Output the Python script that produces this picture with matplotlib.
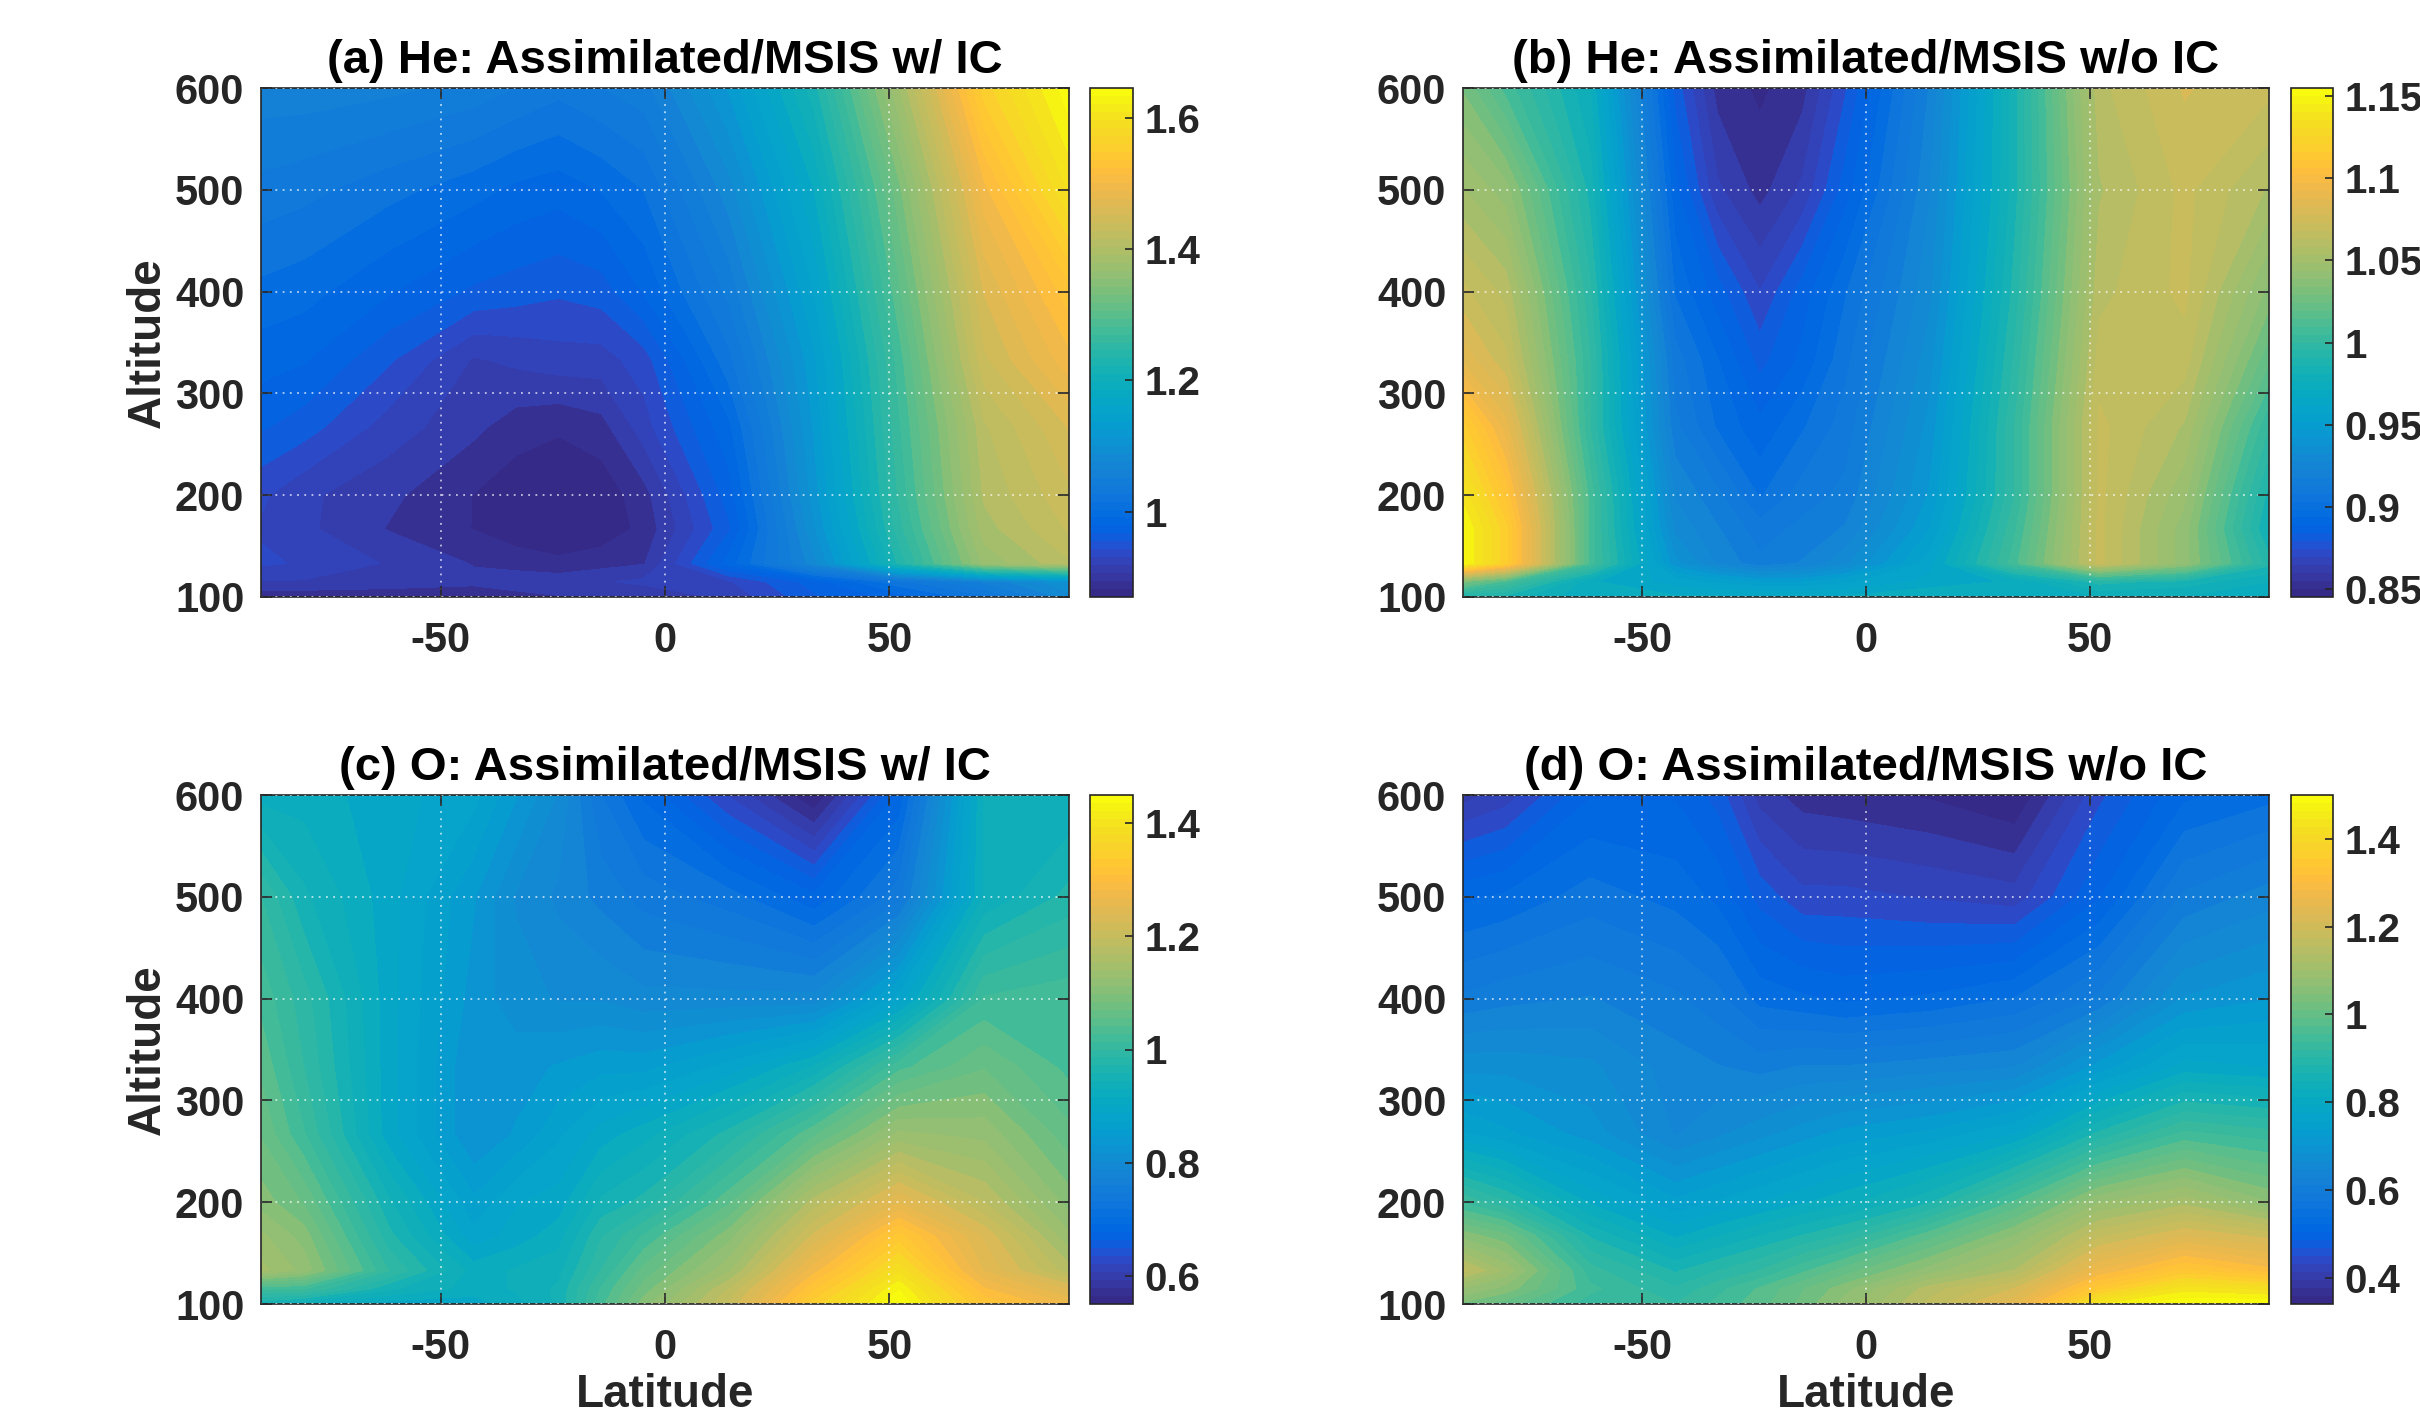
import numpy as np
import matplotlib
matplotlib.use("Agg")
import matplotlib.pyplot as plt
from matplotlib.colors import ListedColormap, Normalize
from matplotlib.cm import ScalarMappable

plt.rcParams['font.family'] = ['Liberation Sans', 'DejaVu Sans']
plt.rcParams['font.weight'] = 'bold'
plt.rcParams['axes.unicode_minus'] = False

parula = ListedColormap([
    [0.2081,0.1663,0.5292],[0.2116,0.1898,0.5777],[0.2123,0.2138,0.6270],[0.2081,0.2386,0.6771],
    [0.1959,0.2645,0.7279],[0.1707,0.2919,0.7792],[0.1253,0.3242,0.8303],[0.0591,0.3598,0.8683],
    [0.0117,0.3875,0.8820],[0.0060,0.4086,0.8828],[0.0165,0.4266,0.8786],[0.0329,0.4430,0.8720],
    [0.0498,0.4586,0.8641],[0.0629,0.4737,0.8554],[0.0723,0.4887,0.8467],[0.0779,0.5040,0.8384],
    [0.0793,0.5200,0.8312],[0.0749,0.5375,0.8263],[0.0641,0.5570,0.8240],[0.0488,0.5772,0.8228],
    [0.0343,0.5966,0.8199],[0.0265,0.6137,0.8135],[0.0239,0.6287,0.8038],[0.0231,0.6418,0.7913],
    [0.0228,0.6535,0.7768],[0.0267,0.6642,0.7607],[0.0384,0.6743,0.7436],[0.0590,0.6838,0.7254],
    [0.0843,0.6928,0.7062],[0.1133,0.7015,0.6859],[0.1453,0.7098,0.6646],[0.1801,0.7177,0.6424],
    [0.2178,0.7250,0.6193],[0.2586,0.7317,0.5954],[0.3022,0.7376,0.5712],[0.3482,0.7424,0.5473],
    [0.3953,0.7459,0.5244],[0.4420,0.7481,0.5033],[0.4871,0.7491,0.4840],[0.5300,0.7491,0.4661],
    [0.5709,0.7485,0.4494],[0.6099,0.7473,0.4337],[0.6473,0.7456,0.4188],[0.6834,0.7435,0.4044],
    [0.7184,0.7411,0.3905],[0.7525,0.7384,0.3768],[0.7858,0.7356,0.3633],[0.8185,0.7327,0.3498],
    [0.8507,0.7299,0.3360],[0.8824,0.7274,0.3217],[0.9139,0.7258,0.3063],[0.9450,0.7261,0.2886],
    [0.9739,0.7314,0.2666],[0.9938,0.7455,0.2403],[0.9990,0.7653,0.2164],[0.9955,0.7861,0.1967],
    [0.9880,0.8066,0.1794],[0.9789,0.8271,0.1633],[0.9697,0.8481,0.1475],[0.9626,0.8705,0.1309],
    [0.9589,0.8949,0.1132],[0.9598,0.9218,0.0948],[0.9661,0.9514,0.0755],[0.9763,0.9831,0.0538]])

lat = [-90, -80.5, -61.6, -42.6, -33.2, -23.7, -14.2, -4.7, 14.2, 33.2, 52.1, 71.1, 90]
alt = [100, 115, 133, 167, 200, 267, 333, 400, 500, 600]

he_ic = [
    [.89,.89,.89,.89,.895,.90,.905,.905,.92,.96,.985,1.02,1.08],
    [.915,.915,.91,.905,.91,.91,.915,.92,.93,.97,1.02,1.06,1.10],
    [.935,.93,.915,.90,.895,.89,.895,.90,.985,1.08,1.23,1.37,1.41],
    [.93,.92,.90,.885,.875,.87,.875,.89,.96,1.10,1.25,1.39,1.43],
    [.935,.92,.905,.885,.875,.87,.875,.895,.97,1.11,1.26,1.40,1.44],
    [.965,.955,.925,.905,.893,.888,.895,.925,.99,1.12,1.27,1.41,1.46],
    [.985,.98,.95,.915,.92,.925,.925,.94,1.02,1.13,1.28,1.44,1.50],
    [1.005,1.00,.98,.96,.955,.95,.955,.98,1.045,1.15,1.30,1.46,1.53],
    [1.035,1.03,1.015,1.00,.99,.985,.995,1.01,1.08,1.18,1.33,1.50,1.60],
    [1.065,1.065,1.06,1.05,1.04,1.03,1.04,1.05,1.12,1.22,1.38,1.56,1.64]]

he_noic = [
    [.985,.985,.97,.97,.97,.97,.97,.97,.975,.975,.975,.975,.97],
    [1.03,1.01,.97,.96,.955,.95,.95,.955,.965,.97,.99,.985,.975],
    [1.15,1.12,1.01,.94,.925,.915,.92,.93,.96,1.01,1.07,1.04,.99],
    [1.15,1.12,1.01,.93,.92,.91,.915,.92,.95,1.005,1.07,1.04,.98],
    [1.14,1.11,1.01,.925,.915,.90,.91,.915,.945,1.00,1.07,1.045,.985],
    [1.12,1.09,1.00,.915,.90,.89,.90,.91,.94,1.00,1.07,1.055,1.00],
    [1.085,1.07,1.00,.91,.895,.88,.89,.905,.935,.995,1.065,1.065,1.02],
    [1.07,1.06,.995,.90,.885,.87,.885,.90,.93,.99,1.06,1.07,1.035],
    [1.05,1.04,.985,.89,.865,.855,.865,.885,.925,.985,1.055,1.07,1.055],
    [1.03,1.01,.975,.88,.855,.85,.855,.875,.92,.985,1.06,1.075,1.07]]

o_ic = [
    [.95,.93,.90,.90,.92,.95,1.03,1.10,1.20,1.35,1.45,1.32,1.27],
    [1.02,1.02,.95,.92,.93,.95,1.02,1.08,1.18,1.32,1.43,1.29,1.23],
    [1.15,1.12,1.00,.92,.93,.94,1.00,1.06,1.14,1.28,1.39,1.25,1.17],
    [1.13,1.10,.97,.88,.90,.92,.98,1.02,1.10,1.22,1.33,1.23,1.13],
    [1.10,1.07,.95,.86,.89,.90,.95,.97,1.05,1.17,1.25,1.18,1.10],
    [1.07,1.02,.90,.82,.84,.87,.90,.92,.97,1.05,1.13,1.12,1.06],
    [1.05,1.00,.90,.82,.83,.84,.85,.85,.88,.93,1.03,1.07,1.03],
    [1.03,.99,.90,.83,.81,.80,.80,.79,.79,.79,.88,1.02,1.03],
    [1.00,.95,.90,.84,.80,.78,.76,.74,.72,.68,.74,.93,.97],
    [.92,.92,.90,.88,.84,.80,.73,.69,.62,.55,.68,.93,.93]]

o_noic = [
    [1.03,1.00,.93,.92,.95,.98,1.02,1.07,1.16,1.24,1.45,1.50,1.50],
    [1.08,1.05,.95,.90,.935,.97,1.01,1.05,1.14,1.20,1.35,1.44,1.42],
    [1.16,1.10,.93,.87,.895,.92,.96,1.00,1.07,1.13,1.27,1.34,1.30],
    [1.05,1.02,.87,.80,.825,.85,.875,.90,.98,1.06,1.17,1.22,1.19],
    [.94,.90,.80,.74,.76,.78,.80,.82,.87,.97,1.08,1.12,1.06],
    [.76,.74,.70,.64,.66,.68,.70,.72,.74,.78,.88,.95,.93],
    [.68,.68,.67,.63,.62,.61,.62,.62,.63,.64,.72,.79,.78],
    [.60,.61,.62,.60,.58,.54,.53,.52,.53,.55,.60,.69,.71],
    [.52,.53,.56,.54,.52,.47,.44,.44,.43,.42,.50,.60,.63],
    [.40,.42,.50,.50,.47,.40,.375,.37,.36,.34,.45,.52,.54]]

titles = ["(a) He: Assimilated/MSIS w/ IC", "(b) He: Assimilated/MSIS w/o IC",
          "(c) O: Assimilated/MSIS w/ IC", "(d) O: Assimilated/MSIS w/o IC"]
fields = [he_ic, he_noic, o_ic, o_noic]
clims = [(0.87, 1.645), (0.845, 1.155), (0.55, 1.45), (0.34, 1.5)]
cb_ticks = [[1, 1.2, 1.4, 1.6],
            [0.85, 0.9, 0.95, 1, 1.05, 1.1, 1.15],
            [0.6, 0.8, 1, 1.2, 1.4],
            [0.4, 0.6, 0.8, 1, 1.2, 1.4]]
cb_labels = [["1", "1.2", "1.4", "1.6"],
             ["0.85", "0.9", "0.95", "1", "1.05", "1.1", "1.15"],
             ["0.6", "0.8", "1", "1.2", "1.4"],
             ["0.4", "0.6", "0.8", "1", "1.2", "1.4"]]

W, H = 2420, 1415
boxes = [(261, 88, 1069, 597, 1090, 1133), (1463, 88, 2269, 597, 2291, 2333),
         (261, 795, 1069, 1304, 1090, 1133), (1463, 795, 2269, 1304, 2291, 2333)]
ink = '#262626'
fs = 30


def px_axes(fig, x0, y0, x1, y1):
    return fig.add_axes([x0 / W, 1 - y1 / H, (x1 - x0) / W, (y1 - y0) / H])


fig = plt.figure(figsize=(W / 100, H / 100), dpi=100)

for i in range(4):
    x0, y0, x1, y1, cx0, cx1 = boxes[i]
    ax = px_axes(fig, x0, y0, x1, y1)
    vmin, vmax = clims[i]
    levels = np.linspace(vmin, vmax, 51)
    cf = ax.contourf(lat, alt, np.array(fields[i]), levels=levels, cmap=parula,
                     vmin=vmin, vmax=vmax, extend='both', antialiased=False)
    ax.set_xlim(-90, 90)
    ax.set_ylim(100, 600)
    ax.set_xticks([-50, 0, 50])
    ax.set_yticks([100, 200, 300, 400, 500, 600])
    ax.grid(True, color='white', linestyle=(0, (1, 3)), linewidth=1.3, alpha=0.7)
    ax.set_axisbelow(False)
    ax.tick_params(direction='in', length=8, width=1.2, top=True, right=True,
                   labelsize=fs, labelcolor=ink, color=ink)
    ax.tick_params(axis='x', pad=17)
    ax.tick_params(axis='y', pad=12)
    for s in ax.spines.values():
        s.set_color(ink)
        s.set_linewidth(1.2)
    ax.set_title(titles[i], fontsize=34, fontweight='bold', color='black', pad=11)
    if i % 2 == 0:
        ax.set_ylabel("Altitude", fontsize=33, fontweight='bold', color=ink, labelpad=4)
    if i >= 2:
        ax.set_xlabel("Latitude", fontsize=33, fontweight='bold', color=ink, labelpad=4)

    cax = px_axes(fig, cx0, y0, cx1, y1)
    cb = fig.colorbar(ScalarMappable(Normalize(vmin, vmax), parula), cax=cax)
    cb.set_ticks(cb_ticks[i], labels=cb_labels[i])
    cb.ax.tick_params(direction='in', length=6, width=1.2, labelsize=29,
                      labelcolor=ink, color=ink, pad=8)
    cb.outline.set_edgecolor(ink)
    cb.outline.set_linewidth(1.2)

fig.savefig("out.png", dpi=100)
